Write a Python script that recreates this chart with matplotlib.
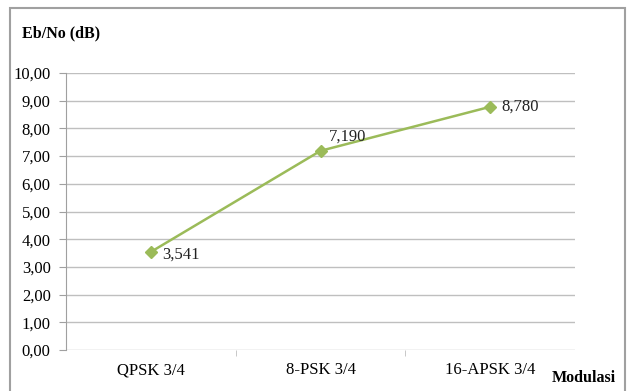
import matplotlib.pyplot as plt
from matplotlib.patches import Rectangle

# data
modulasi = ["QPSK 3/4", "8-PSK 3/4", "16-APSK 3/4"]
ebno = [3.541, 7.190, 8.780]
labels = ["3,541", "7,190", "8,780"]
label_offsets = [(8, -2), (6, 10), (8, 0)]
yticks = [0, 1, 2, 3, 4, 5, 6, 7, 8, 9, 10]

plt.rcParams['font.family'] = ['Liberation Serif', 'DejaVu Serif']

fig = plt.figure(figsize=(6.27, 3.91), dpi=100)
ax = fig.add_axes([66 / 627, 1 - 350 / 391, (575 - 66) / 627, (350 - 73) / 391])

x = list(range(len(modulasi)))
ax.plot(x, ebno, color='#9BBB59', lw=1.8, marker='D', ms=6.5, zorder=3)
for xi, yi, lab, off in zip(x, ebno, labels, label_offsets):
    ax.annotate(lab, (xi, yi), xytext=off, textcoords='offset points',
                ha='left', va='center', fontsize=12, color='#222222')

ax.set_xlim(-0.5, len(modulasi) - 0.5)
ax.set_ylim(0, 10)
ax.set_yticks(yticks)
ax.set_yticklabels([f"{v:.2f}".replace('.', ',') for v in yticks])
ax.set_xticks(x)
ax.set_xticklabels(modulasi)
ax.set_xticks([0.5, 1.5], minor=True)

ax.grid(axis='y', color='#BFBFBF', lw=1)
ax.set_axisbelow(True)
for s in ['top', 'right', 'bottom']:
    ax.spines[s].set_visible(False)
ax.spines['left'].set_color('#A0A0A0')
ax.tick_params(axis='y', labelsize=12, length=5, color='#A0A0A0', pad=6)
ax.tick_params(axis='x', which='major', labelsize=12, length=0, pad=9)
ax.tick_params(axis='x', which='minor', length=4, color='#BFBFBF')

fig.text(22 / 627, 1 - 33 / 391, "Eb/No (dB)", fontsize=11.5, fontweight='bold',
         ha='left', va='center')
fig.text(616 / 627, 1 - 378 / 391, "Modulasi", fontsize=11.5, fontweight='bold',
         ha='right', va='center')

# outer chart border
fig.patches.append(Rectangle((10 / 627, -0.05), 615 / 627, 1 - 8 / 391 + 0.05,
                             transform=fig.transFigure, fill=False,
                             edgecolor='#A0A0A0', lw=1.5))

fig.savefig("out.png", dpi=100)
